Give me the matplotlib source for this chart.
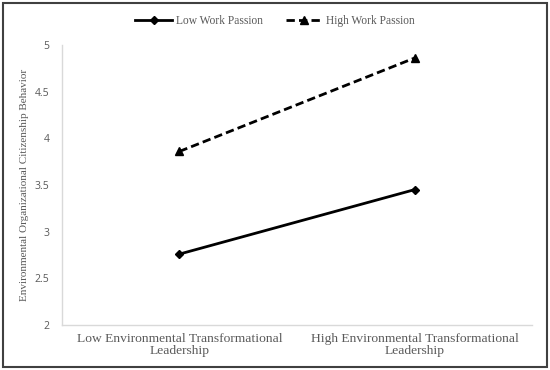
import matplotlib.pyplot as plt
from matplotlib.patches import Rectangle

categories = ["Low Environmental Transformational\nLeadership",
              "High Environmental Transformational\nLeadership"]
low_passion = [2.76, 3.45]
high_passion = [3.86, 4.86]
yticks = [2, 2.5, 3, 3.5, 4, 4.5, 5]

fig = plt.figure(figsize=(5.5, 3.7), dpi=100)
ax = fig.add_axes([0.1127, 0.1216, 0.8546, 0.7568])

x = range(len(categories))
ax.plot(x, low_passion, color="black", lw=2, marker="D", markersize=4,
        label="Low Work Passion")
ax.plot(x, high_passion, color="black", lw=2, ls=(0, (3, 1.5)), marker="^",
        markersize=6, label="High Work Passion")

ax.set_xlim(-0.5, 1.5)
ax.set_ylim(2, 5)
ax.set_yticks(yticks)
ax.set_yticklabels([f"{v:g}" for v in yticks], fontsize=7.5, color="#595959",
                   family="Open Sans")
ax.set_xticks(list(x))
ax.set_xticklabels(categories, fontsize=9.7, color="#595959",
                   family="Liberation Serif")
for lab in ax.get_xticklabels():
    lab.set_linespacing(1.0)
ax.tick_params(length=0, pad=6)
ax.tick_params(axis="y", pad=9)

for side in ["top", "right"]:
    ax.spines[side].set_visible(False)
for side in ["left", "bottom"]:
    ax.spines[side].set_color("#d9d9d9")
    ax.spines[side].set_linewidth(1)

ax.set_ylabel("Environmental Organizational Citizenship Behavior",
              family="Liberation Serif", fontsize=8, color="#595959")
ax.yaxis.set_label_coords(-0.07, 0.5)

fig.legend(loc="center", bbox_to_anchor=(0.5, 0.943), ncol=2, frameon=False,
           prop={"family": "Liberation Serif", "size": 8.3}, labelcolor="#595959",
           handlelength=3.2, columnspacing=2.0, handletextpad=0.3)

fig.patches.append(Rectangle((0.006, 0.008), 0.988, 0.984, transform=fig.transFigure,
                             fill=False, edgecolor="#404040", lw=1.5))

fig.savefig("out.png", dpi=100)
